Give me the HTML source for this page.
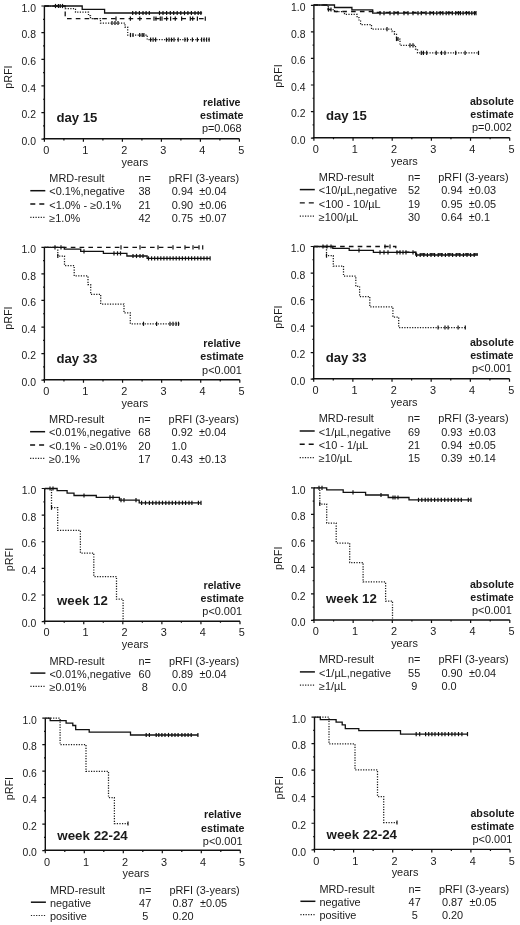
<!DOCTYPE html>
<html><head><meta charset="utf-8"><title>pRFI by MRD</title><style>
html,body{margin:0;padding:0;background:#fff;}
body{width:520px;height:925px;overflow:hidden;}
svg{display:block;filter:blur(0.3px);}
text{font-family:"Liberation Sans",sans-serif;fill:#1a1a1a;}
.ax{stroke:#111;stroke-width:1.4;fill:none;}
.tk{stroke:#111;stroke-width:1.2;fill:none;}
.so{stroke:#111;stroke-width:1.3;fill:none;}
.da{stroke:#111;stroke-width:1.3;fill:none;stroke-dasharray:4.6 4.2;}
.do{stroke:#1a1a1a;stroke-width:1.25;fill:none;stroke-dasharray:1.2 1.4;}
.lso{stroke:#111;stroke-width:1.5;fill:none;}
.lda{stroke:#111;stroke-width:1.4;fill:none;stroke-dasharray:5 4;}
.ldo{stroke:#222;stroke-width:1.2;fill:none;stroke-dasharray:1.2 1.4;}
.cs{stroke:#111;stroke-width:1.2;}
</style></head>
<body><svg width="520" height="925" viewBox="0 0 520 925">
<rect width="520" height="925" fill="#fff"/>
<path class="ax" d="M44.40 6.00V138.80M43.20 138.80H239.40"/>
<path class="tk" d="M41.40 139.20H44.40M44.40 138.80V141.80M41.40 112.56H44.40M83.40 138.80V141.80M41.40 85.92H44.40M122.40 138.80V141.80M41.40 59.28H44.40M161.40 138.80V141.80M41.40 32.64H44.40M200.40 138.80V141.80M41.40 6.00H44.40M239.40 138.80V141.80M43.10 125.88H44.40M63.90 138.80V140.40M43.10 99.24H44.40M102.90 138.80V140.40M43.10 72.60H44.40M141.90 138.80V140.40M43.10 45.96H44.40M180.90 138.80V140.40M43.10 19.32H44.40M219.90 138.80V140.40"/>
<text transform="translate(36.00 144.90) scale(1.01 1)" font-size="10.3" text-anchor="end">0.0</text>
<text transform="translate(46.20 154.00) scale(1.06 1)" font-size="10.3" text-anchor="middle">0</text>
<text transform="translate(36.00 118.26) scale(1.01 1)" font-size="10.3" text-anchor="end">0.2</text>
<text transform="translate(85.20 154.00) scale(1.06 1)" font-size="10.3" text-anchor="middle">1</text>
<text transform="translate(36.00 91.62) scale(1.01 1)" font-size="10.3" text-anchor="end">0.4</text>
<text transform="translate(124.20 154.00) scale(1.06 1)" font-size="10.3" text-anchor="middle">2</text>
<text transform="translate(36.00 64.98) scale(1.01 1)" font-size="10.3" text-anchor="end">0.6</text>
<text transform="translate(163.20 154.00) scale(1.06 1)" font-size="10.3" text-anchor="middle">3</text>
<text transform="translate(36.00 38.34) scale(1.01 1)" font-size="10.3" text-anchor="end">0.8</text>
<text transform="translate(202.20 154.00) scale(1.06 1)" font-size="10.3" text-anchor="middle">4</text>
<text transform="translate(36.00 11.70) scale(1.01 1)" font-size="10.3" text-anchor="end">1.0</text>
<text transform="translate(241.20 154.00) scale(1.06 1)" font-size="10.3" text-anchor="middle">5</text>
<text transform="translate(134.90 165.60) scale(1.06 1)" font-size="10.3" text-anchor="middle">years</text>
<text transform="translate(12.40 77.10) rotate(-90) scale(1.07 1)" font-size="10.1" text-anchor="middle">pRFI</text>
<path class="so" d="M44.40 6.00H82.20V9.40H104.60V13.00H202.10"/>
<line class="cs" x1="55.50" y1="3.90" x2="55.50" y2="8.10"/>
<line class="cs" x1="58.40" y1="3.90" x2="58.40" y2="8.10"/>
<line class="cs" x1="60.20" y1="3.90" x2="60.20" y2="8.10"/>
<line class="cs" x1="62.50" y1="3.90" x2="62.50" y2="8.10"/>
<line class="cs" x1="132.70" y1="10.90" x2="132.70" y2="15.10"/>
<line class="cs" x1="135.90" y1="10.90" x2="135.90" y2="15.10"/>
<line class="cs" x1="139.40" y1="10.90" x2="139.40" y2="15.10"/>
<line class="cs" x1="143.00" y1="10.90" x2="143.00" y2="15.10"/>
<line class="cs" x1="146.10" y1="10.90" x2="146.10" y2="15.10"/>
<line class="cs" x1="149.30" y1="10.90" x2="149.30" y2="15.10"/>
<line class="cs" x1="159.50" y1="10.90" x2="159.50" y2="15.10"/>
<line class="cs" x1="163.00" y1="10.90" x2="163.00" y2="15.10"/>
<line class="cs" x1="166.60" y1="10.90" x2="166.60" y2="15.10"/>
<line class="cs" x1="170.30" y1="10.90" x2="170.30" y2="15.10"/>
<line class="cs" x1="173.70" y1="10.90" x2="173.70" y2="15.10"/>
<line class="cs" x1="177.20" y1="10.90" x2="177.20" y2="15.10"/>
<line class="cs" x1="180.80" y1="10.90" x2="180.80" y2="15.10"/>
<line class="cs" x1="184.50" y1="10.90" x2="184.50" y2="15.10"/>
<line class="cs" x1="187.90" y1="10.90" x2="187.90" y2="15.10"/>
<line class="cs" x1="191.40" y1="10.90" x2="191.40" y2="15.10"/>
<line class="cs" x1="195.00" y1="10.90" x2="195.00" y2="15.10"/>
<line class="cs" x1="198.20" y1="10.90" x2="198.20" y2="15.10"/>
<line class="cs" x1="200.90" y1="10.90" x2="200.90" y2="15.10"/>
<path class="da" d="M44.40 6.00H65.20V18.60H205.30"/>
<line class="cs" x1="116.00" y1="16.50" x2="116.00" y2="20.70"/>
<line class="cs" x1="130.40" y1="16.50" x2="130.40" y2="20.70"/>
<line class="cs" x1="139.80" y1="16.50" x2="139.80" y2="20.70"/>
<line class="cs" x1="154.00" y1="16.50" x2="154.00" y2="20.70"/>
<line class="cs" x1="156.00" y1="16.50" x2="156.00" y2="20.70"/>
<line class="cs" x1="160.30" y1="16.50" x2="160.30" y2="20.70"/>
<line class="cs" x1="162.00" y1="16.50" x2="162.00" y2="20.70"/>
<line class="cs" x1="166.60" y1="16.50" x2="166.60" y2="20.70"/>
<line class="cs" x1="170.60" y1="16.50" x2="170.60" y2="20.70"/>
<line class="cs" x1="175.30" y1="16.50" x2="175.30" y2="20.70"/>
<line class="cs" x1="181.60" y1="16.50" x2="181.60" y2="20.70"/>
<line class="cs" x1="190.30" y1="16.50" x2="190.30" y2="20.70"/>
<line class="cs" x1="192.70" y1="16.50" x2="192.70" y2="20.70"/>
<line class="cs" x1="197.40" y1="16.50" x2="197.40" y2="20.70"/>
<line class="cs" x1="205.30" y1="16.50" x2="205.30" y2="20.70"/>
<path class="do" d="M44.40 6.00H65.20V8.70H75.50V12.20H88.50V15.50H90.50V18.50H100.50V23.00H125.00V27.00H127.70V35.00H147.20V39.70H209.50"/>
<line class="cs" x1="112.00" y1="20.90" x2="112.00" y2="25.10"/>
<line class="cs" x1="115.00" y1="20.90" x2="115.00" y2="25.10"/>
<line class="cs" x1="118.00" y1="20.90" x2="118.00" y2="25.10"/>
<line class="cs" x1="130.50" y1="32.90" x2="130.50" y2="37.10"/>
<line class="cs" x1="133.00" y1="32.90" x2="133.00" y2="37.10"/>
<line class="cs" x1="139.70" y1="32.90" x2="139.70" y2="37.10"/>
<line class="cs" x1="142.20" y1="32.90" x2="142.20" y2="37.10"/>
<line class="cs" x1="143.90" y1="32.90" x2="143.90" y2="37.10"/>
<line class="cs" x1="150.60" y1="37.60" x2="150.60" y2="41.80"/>
<line class="cs" x1="153.10" y1="37.60" x2="153.10" y2="41.80"/>
<line class="cs" x1="155.60" y1="37.60" x2="155.60" y2="41.80"/>
<line class="cs" x1="166.50" y1="37.60" x2="166.50" y2="41.80"/>
<line class="cs" x1="169.00" y1="37.60" x2="169.00" y2="41.80"/>
<line class="cs" x1="171.50" y1="37.60" x2="171.50" y2="41.80"/>
<line class="cs" x1="174.00" y1="37.60" x2="174.00" y2="41.80"/>
<line class="cs" x1="178.20" y1="37.60" x2="178.20" y2="41.80"/>
<line class="cs" x1="184.90" y1="37.60" x2="184.90" y2="41.80"/>
<line class="cs" x1="187.40" y1="37.60" x2="187.40" y2="41.80"/>
<line class="cs" x1="192.40" y1="37.60" x2="192.40" y2="41.80"/>
<line class="cs" x1="197.40" y1="37.60" x2="197.40" y2="41.80"/>
<line class="cs" x1="201.60" y1="37.60" x2="201.60" y2="41.80"/>
<line class="cs" x1="204.10" y1="37.60" x2="204.10" y2="41.80"/>
<line class="cs" x1="206.60" y1="37.60" x2="206.60" y2="41.80"/>
<line class="cs" x1="209.10" y1="37.60" x2="209.10" y2="41.80"/>
<text transform="translate(56.40 121.50) scale(1.0453 1)" font-size="12.6" font-weight="bold">day 15</text>
<text transform="translate(221.80 106.00) scale(1.05 1)" font-size="10.2" font-weight="bold" text-anchor="middle">relative</text>
<text transform="translate(221.80 118.90) scale(1.05 1)" font-size="10.2" font-weight="bold" text-anchor="middle">estimate</text>
<text transform="translate(221.80 132.20) scale(1.06 1)" font-size="10.3" text-anchor="middle">p=0.068</text>
<text transform="translate(49.30 182.10) scale(1.06 1)" font-size="10.3">MRD-result</text>
<text transform="translate(144.60 182.10) scale(1.06 1)" font-size="10.3" text-anchor="middle">n=</text>
<text transform="translate(168.80 182.10) scale(1.06 1)" font-size="10.3">pRFI (3-years)</text>
<path class="lso" d="M30.30 190.70H45.30"/>
<text transform="translate(49.30 195.40) scale(1.06 1)" font-size="10.3">&lt;0.1%,negative</text>
<text transform="translate(144.60 195.40) scale(1.06 1)" font-size="10.3" text-anchor="middle">38</text>
<text transform="translate(171.80 195.40) scale(1.06 1)" font-size="10.3">0.94</text>
<text transform="translate(199.30 195.40) scale(1.06 1)" font-size="10.3">±0.04</text>
<path class="lda" d="M30.30 204.00H45.30"/>
<text transform="translate(49.30 208.70) scale(1.06 1)" font-size="10.3">&lt;1.0% - ≥0.1%</text>
<text transform="translate(144.60 208.70) scale(1.06 1)" font-size="10.3" text-anchor="middle">21</text>
<text transform="translate(171.80 208.70) scale(1.06 1)" font-size="10.3">0.90</text>
<text transform="translate(199.30 208.70) scale(1.06 1)" font-size="10.3">±0.06</text>
<path class="ldo" d="M30.30 217.30H45.30"/>
<text transform="translate(49.30 222.00) scale(1.06 1)" font-size="10.3">≥1.0%</text>
<text transform="translate(144.60 222.00) scale(1.06 1)" font-size="10.3" text-anchor="middle">42</text>
<text transform="translate(171.80 222.00) scale(1.06 1)" font-size="10.3">0.75</text>
<text transform="translate(199.30 222.00) scale(1.06 1)" font-size="10.3">±0.07</text>
<path class="ax" d="M313.90 5.30V137.70M312.70 137.70H509.70"/>
<path class="tk" d="M310.90 138.10H313.90M313.90 137.70V140.70M310.90 111.54H313.90M353.06 137.70V140.70M310.90 84.98H313.90M392.22 137.70V140.70M310.90 58.42H313.90M431.38 137.70V140.70M310.90 31.86H313.90M470.54 137.70V140.70M310.90 5.30H313.90M509.70 137.70V140.70M312.60 124.82H313.90M333.48 137.70V139.30M312.60 98.26H313.90M372.64 137.70V139.30M312.60 71.70H313.90M411.80 137.70V139.30M312.60 45.14H313.90M450.96 137.70V139.30M312.60 18.58H313.90M490.12 137.70V139.30"/>
<text transform="translate(305.50 143.80) scale(1.01 1)" font-size="10.3" text-anchor="end">0.0</text>
<text transform="translate(315.70 152.90) scale(1.06 1)" font-size="10.3" text-anchor="middle">0</text>
<text transform="translate(305.50 117.24) scale(1.01 1)" font-size="10.3" text-anchor="end">0.2</text>
<text transform="translate(354.86 152.90) scale(1.06 1)" font-size="10.3" text-anchor="middle">1</text>
<text transform="translate(305.50 90.68) scale(1.01 1)" font-size="10.3" text-anchor="end">0.4</text>
<text transform="translate(394.02 152.90) scale(1.06 1)" font-size="10.3" text-anchor="middle">2</text>
<text transform="translate(305.50 64.12) scale(1.01 1)" font-size="10.3" text-anchor="end">0.6</text>
<text transform="translate(433.18 152.90) scale(1.06 1)" font-size="10.3" text-anchor="middle">3</text>
<text transform="translate(305.50 37.56) scale(1.01 1)" font-size="10.3" text-anchor="end">0.8</text>
<text transform="translate(472.34 152.90) scale(1.06 1)" font-size="10.3" text-anchor="middle">4</text>
<text transform="translate(305.50 11.00) scale(1.01 1)" font-size="10.3" text-anchor="end">1.0</text>
<text transform="translate(511.50 152.90) scale(1.06 1)" font-size="10.3" text-anchor="middle">5</text>
<text transform="translate(404.40 164.50) scale(1.06 1)" font-size="10.3" text-anchor="middle">years</text>
<text transform="translate(281.90 76.00) rotate(-90) scale(1.07 1)" font-size="10.1" text-anchor="middle">pRFI</text>
<path class="so" d="M313.60 5.00H334.50V7.50H351.90V9.80H372.70V13.20H476.00"/>
<line class="cs" x1="380.00" y1="11.10" x2="380.00" y2="15.30"/>
<line class="cs" x1="384.00" y1="11.10" x2="384.00" y2="15.30"/>
<line class="cs" x1="390.00" y1="11.10" x2="390.00" y2="15.30"/>
<line class="cs" x1="394.00" y1="11.10" x2="394.00" y2="15.30"/>
<line class="cs" x1="398.00" y1="11.10" x2="398.00" y2="15.30"/>
<line class="cs" x1="404.00" y1="11.10" x2="404.00" y2="15.30"/>
<line class="cs" x1="408.00" y1="11.10" x2="408.00" y2="15.30"/>
<line class="cs" x1="413.00" y1="11.10" x2="413.00" y2="15.30"/>
<line class="cs" x1="418.00" y1="11.10" x2="418.00" y2="15.30"/>
<line class="cs" x1="421.30" y1="11.10" x2="421.30" y2="15.30"/>
<line class="cs" x1="426.00" y1="11.10" x2="426.00" y2="15.30"/>
<line class="cs" x1="430.00" y1="11.10" x2="430.00" y2="15.30"/>
<line class="cs" x1="433.50" y1="11.10" x2="433.50" y2="15.30"/>
<line class="cs" x1="436.80" y1="11.10" x2="436.80" y2="15.30"/>
<line class="cs" x1="440.20" y1="11.10" x2="440.20" y2="15.30"/>
<line class="cs" x1="442.90" y1="11.10" x2="442.90" y2="15.30"/>
<line class="cs" x1="446.20" y1="11.10" x2="446.20" y2="15.30"/>
<line class="cs" x1="448.90" y1="11.10" x2="448.90" y2="15.30"/>
<line class="cs" x1="452.30" y1="11.10" x2="452.30" y2="15.30"/>
<line class="cs" x1="455.70" y1="11.10" x2="455.70" y2="15.30"/>
<line class="cs" x1="458.40" y1="11.10" x2="458.40" y2="15.30"/>
<line class="cs" x1="460.40" y1="11.10" x2="460.40" y2="15.30"/>
<line class="cs" x1="463.10" y1="11.10" x2="463.10" y2="15.30"/>
<line class="cs" x1="466.40" y1="11.10" x2="466.40" y2="15.30"/>
<line class="cs" x1="469.10" y1="11.10" x2="469.10" y2="15.30"/>
<line class="cs" x1="471.80" y1="11.10" x2="471.80" y2="15.30"/>
<line class="cs" x1="474.50" y1="11.10" x2="474.50" y2="15.30"/>
<line class="cs" x1="476.00" y1="11.10" x2="476.00" y2="15.30"/>
<path class="da" d="M313.60 5.00H328.20V9.50H334.50V11.50H372.70V12.30H476.00"/>
<path class="do" d="M313.60 5.00H328.20V9.50H334.50V11.50H344.50V14.40H357.10V17.50H359.00V21.00H360.60V24.60H371.50V29.20H392.20V31.50H394.50V34.40H396.50V39.00H400.00V45.40H415.50V49.00H417.50V52.90H478.50"/>
<line class="cs" x1="328.50" y1="7.40" x2="328.50" y2="11.60"/>
<line class="cs" x1="331.00" y1="7.40" x2="331.00" y2="11.60"/>
<line class="cs" x1="387.00" y1="27.10" x2="387.00" y2="31.30"/>
<line class="cs" x1="396.50" y1="36.90" x2="396.50" y2="41.10"/>
<line class="cs" x1="398.00" y1="36.90" x2="398.00" y2="41.10"/>
<line class="cs" x1="410.00" y1="43.30" x2="410.00" y2="47.50"/>
<line class="cs" x1="413.00" y1="43.30" x2="413.00" y2="47.50"/>
<line class="cs" x1="421.30" y1="50.80" x2="421.30" y2="55.00"/>
<line class="cs" x1="423.40" y1="50.80" x2="423.40" y2="55.00"/>
<line class="cs" x1="426.70" y1="50.80" x2="426.70" y2="55.00"/>
<line class="cs" x1="436.20" y1="50.80" x2="436.20" y2="55.00"/>
<line class="cs" x1="441.50" y1="50.80" x2="441.50" y2="55.00"/>
<line class="cs" x1="444.90" y1="50.80" x2="444.90" y2="55.00"/>
<line class="cs" x1="455.70" y1="50.80" x2="455.70" y2="55.00"/>
<line class="cs" x1="465.10" y1="50.80" x2="465.10" y2="55.00"/>
<line class="cs" x1="478.50" y1="50.80" x2="478.50" y2="55.00"/>
<text transform="translate(325.90 120.40) scale(1.0453 1)" font-size="12.6" font-weight="bold">day 15</text>
<text transform="translate(491.90 104.90) scale(1.05 1)" font-size="10.2" font-weight="bold" text-anchor="middle">absolute</text>
<text transform="translate(491.90 117.80) scale(1.05 1)" font-size="10.2" font-weight="bold" text-anchor="middle">estimate</text>
<text transform="translate(491.90 130.80) scale(1.06 1)" font-size="10.3" text-anchor="middle">p=0.002</text>
<text transform="translate(318.80 181.00) scale(1.06 1)" font-size="10.3">MRD-result</text>
<text transform="translate(414.10 181.00) scale(1.06 1)" font-size="10.3" text-anchor="middle">n=</text>
<text transform="translate(438.30 181.00) scale(1.06 1)" font-size="10.3">pRFI (3-years)</text>
<path class="lso" d="M299.80 189.60H314.80"/>
<text transform="translate(318.80 194.30) scale(1.06 1)" font-size="10.3">&lt;10/µL,negative</text>
<text transform="translate(414.10 194.30) scale(1.06 1)" font-size="10.3" text-anchor="middle">52</text>
<text transform="translate(441.30 194.30) scale(1.06 1)" font-size="10.3">0.94</text>
<text transform="translate(468.80 194.30) scale(1.06 1)" font-size="10.3">±0.03</text>
<path class="lda" d="M299.80 202.90H314.80"/>
<text transform="translate(318.80 207.60) scale(1.06 1)" font-size="10.3">&lt;100 - 10/µL</text>
<text transform="translate(414.10 207.60) scale(1.06 1)" font-size="10.3" text-anchor="middle">19</text>
<text transform="translate(441.30 207.60) scale(1.06 1)" font-size="10.3">0.95</text>
<text transform="translate(468.80 207.60) scale(1.06 1)" font-size="10.3">±0.05</text>
<path class="ldo" d="M299.80 216.20H314.80"/>
<text transform="translate(318.80 220.90) scale(1.06 1)" font-size="10.3">≥100/µL</text>
<text transform="translate(414.10 220.90) scale(1.06 1)" font-size="10.3" text-anchor="middle">30</text>
<text transform="translate(441.30 220.90) scale(1.06 1)" font-size="10.3">0.64</text>
<text transform="translate(468.80 220.90) scale(1.06 1)" font-size="10.3">±0.1</text>
<path class="ax" d="M44.40 247.30V379.80M43.20 379.80H239.80"/>
<path class="tk" d="M41.40 380.20H44.40M44.40 379.80V382.80M41.40 353.62H44.40M83.48 379.80V382.80M41.40 327.04H44.40M122.56 379.80V382.80M41.40 300.46H44.40M161.64 379.80V382.80M41.40 273.88H44.40M200.72 379.80V382.80M41.40 247.30H44.40M239.80 379.80V382.80M43.10 366.91H44.40M63.94 379.80V381.40M43.10 340.33H44.40M103.02 379.80V381.40M43.10 313.75H44.40M142.10 379.80V381.40M43.10 287.17H44.40M181.18 379.80V381.40M43.10 260.59H44.40M220.26 379.80V381.40"/>
<text transform="translate(36.00 385.90) scale(1.01 1)" font-size="10.3" text-anchor="end">0.0</text>
<text transform="translate(46.20 395.00) scale(1.06 1)" font-size="10.3" text-anchor="middle">0</text>
<text transform="translate(36.00 359.32) scale(1.01 1)" font-size="10.3" text-anchor="end">0.2</text>
<text transform="translate(85.28 395.00) scale(1.06 1)" font-size="10.3" text-anchor="middle">1</text>
<text transform="translate(36.00 332.74) scale(1.01 1)" font-size="10.3" text-anchor="end">0.4</text>
<text transform="translate(124.36 395.00) scale(1.06 1)" font-size="10.3" text-anchor="middle">2</text>
<text transform="translate(36.00 306.16) scale(1.01 1)" font-size="10.3" text-anchor="end">0.6</text>
<text transform="translate(163.44 395.00) scale(1.06 1)" font-size="10.3" text-anchor="middle">3</text>
<text transform="translate(36.00 279.58) scale(1.01 1)" font-size="10.3" text-anchor="end">0.8</text>
<text transform="translate(202.52 395.00) scale(1.06 1)" font-size="10.3" text-anchor="middle">4</text>
<text transform="translate(36.00 253.00) scale(1.01 1)" font-size="10.3" text-anchor="end">1.0</text>
<text transform="translate(241.60 395.00) scale(1.06 1)" font-size="10.3" text-anchor="middle">5</text>
<text transform="translate(134.90 406.60) scale(1.06 1)" font-size="10.3" text-anchor="middle">years</text>
<text transform="translate(12.40 318.10) rotate(-90) scale(1.07 1)" font-size="10.1" text-anchor="middle">pRFI</text>
<path class="so" d="M44.40 247.30H64.30V249.20H80.70V251.40H103.40V253.40H126.90V256.00H147.10V258.40H210.00"/>
<line class="cs" x1="55.00" y1="245.20" x2="55.00" y2="249.40"/>
<line class="cs" x1="61.00" y1="245.20" x2="61.00" y2="249.40"/>
<line class="cs" x1="84.00" y1="249.30" x2="84.00" y2="253.50"/>
<line class="cs" x1="114.00" y1="251.30" x2="114.00" y2="255.50"/>
<line class="cs" x1="117.50" y1="251.30" x2="117.50" y2="255.50"/>
<line class="cs" x1="120.50" y1="251.30" x2="120.50" y2="255.50"/>
<line class="cs" x1="133.00" y1="253.90" x2="133.00" y2="258.10"/>
<line class="cs" x1="136.50" y1="253.90" x2="136.50" y2="258.10"/>
<line class="cs" x1="140.00" y1="253.90" x2="140.00" y2="258.10"/>
<line class="cs" x1="143.00" y1="253.90" x2="143.00" y2="258.10"/>
<line class="cs" x1="148.50" y1="256.30" x2="148.50" y2="260.50"/>
<line class="cs" x1="151.58" y1="256.30" x2="151.58" y2="260.50"/>
<line class="cs" x1="154.66" y1="256.30" x2="154.66" y2="260.50"/>
<line class="cs" x1="157.74" y1="256.30" x2="157.74" y2="260.50"/>
<line class="cs" x1="160.82" y1="256.30" x2="160.82" y2="260.50"/>
<line class="cs" x1="163.90" y1="256.30" x2="163.90" y2="260.50"/>
<line class="cs" x1="166.98" y1="256.30" x2="166.98" y2="260.50"/>
<line class="cs" x1="170.06" y1="256.30" x2="170.06" y2="260.50"/>
<line class="cs" x1="173.14" y1="256.30" x2="173.14" y2="260.50"/>
<line class="cs" x1="176.22" y1="256.30" x2="176.22" y2="260.50"/>
<line class="cs" x1="179.30" y1="256.30" x2="179.30" y2="260.50"/>
<line class="cs" x1="182.38" y1="256.30" x2="182.38" y2="260.50"/>
<line class="cs" x1="185.46" y1="256.30" x2="185.46" y2="260.50"/>
<line class="cs" x1="188.54" y1="256.30" x2="188.54" y2="260.50"/>
<line class="cs" x1="191.62" y1="256.30" x2="191.62" y2="260.50"/>
<line class="cs" x1="194.70" y1="256.30" x2="194.70" y2="260.50"/>
<line class="cs" x1="197.78" y1="256.30" x2="197.78" y2="260.50"/>
<line class="cs" x1="200.86" y1="256.30" x2="200.86" y2="260.50"/>
<line class="cs" x1="203.94" y1="256.30" x2="203.94" y2="260.50"/>
<line class="cs" x1="207.02" y1="256.30" x2="207.02" y2="260.50"/>
<line class="cs" x1="210.10" y1="256.30" x2="210.10" y2="260.50"/>
<path class="da" d="M44.40 247.30H202.70"/>
<line class="cs" x1="121.00" y1="245.20" x2="121.00" y2="249.40"/>
<line class="cs" x1="140.00" y1="245.20" x2="140.00" y2="249.40"/>
<line class="cs" x1="158.00" y1="245.20" x2="158.00" y2="249.40"/>
<line class="cs" x1="173.00" y1="245.20" x2="173.00" y2="249.40"/>
<line class="cs" x1="185.00" y1="245.20" x2="185.00" y2="249.40"/>
<line class="cs" x1="193.00" y1="245.20" x2="193.00" y2="249.40"/>
<line class="cs" x1="199.00" y1="245.20" x2="199.00" y2="249.40"/>
<line class="cs" x1="202.70" y1="245.20" x2="202.70" y2="249.40"/>
<path class="do" d="M44.40 247.30H57.80V256.00H64.50V265.60H74.20V275.90H88.00V284.50H90.70V294.30H100.70V304.00H124.00V312.80H130.30V323.80H179.40"/>
<line class="cs" x1="57.80" y1="253.90" x2="57.80" y2="258.10"/>
<line class="cs" x1="143.50" y1="321.70" x2="143.50" y2="325.90"/>
<line class="cs" x1="156.60" y1="321.70" x2="156.60" y2="325.90"/>
<line class="cs" x1="170.00" y1="321.70" x2="170.00" y2="325.90"/>
<line class="cs" x1="173.00" y1="321.70" x2="173.00" y2="325.90"/>
<line class="cs" x1="176.00" y1="321.70" x2="176.00" y2="325.90"/>
<line class="cs" x1="178.50" y1="321.70" x2="178.50" y2="325.90"/>
<text transform="translate(56.40 362.50) scale(1.0453 1)" font-size="12.6" font-weight="bold">day 33</text>
<text transform="translate(222.00 347.00) scale(1.05 1)" font-size="10.2" font-weight="bold" text-anchor="middle">relative</text>
<text transform="translate(222.00 359.90) scale(1.05 1)" font-size="10.2" font-weight="bold" text-anchor="middle">estimate</text>
<text transform="translate(222.00 373.50) scale(1.06 1)" font-size="10.3" text-anchor="middle">p&lt;0.001</text>
<text transform="translate(49.10 423.10) scale(1.06 1)" font-size="10.3">MRD-result</text>
<text transform="translate(144.40 423.10) scale(1.06 1)" font-size="10.3" text-anchor="middle">n=</text>
<text transform="translate(168.60 423.10) scale(1.06 1)" font-size="10.3">pRFI (3-years)</text>
<path class="lso" d="M30.10 431.70H45.10"/>
<text transform="translate(49.10 436.40) scale(1.06 1)" font-size="10.3">&lt;0.01%,negative</text>
<text transform="translate(144.40 436.40) scale(1.06 1)" font-size="10.3" text-anchor="middle">68</text>
<text transform="translate(171.60 436.40) scale(1.06 1)" font-size="10.3">0.92</text>
<text transform="translate(199.10 436.40) scale(1.06 1)" font-size="10.3">±0.04</text>
<path class="lda" d="M30.10 445.00H45.10"/>
<text transform="translate(49.10 449.70) scale(1.06 1)" font-size="10.3">&lt;0.1% - ≥0.01%</text>
<text transform="translate(144.40 449.70) scale(1.06 1)" font-size="10.3" text-anchor="middle">20</text>
<text transform="translate(171.60 449.70) scale(1.06 1)" font-size="10.3">1.0</text>
<path class="ldo" d="M30.10 458.30H45.10"/>
<text transform="translate(49.10 463.00) scale(1.06 1)" font-size="10.3">≥0.1%</text>
<text transform="translate(144.40 463.00) scale(1.06 1)" font-size="10.3" text-anchor="middle">17</text>
<text transform="translate(171.60 463.00) scale(1.06 1)" font-size="10.3">0.43</text>
<text transform="translate(199.10 463.00) scale(1.06 1)" font-size="10.3">±0.13</text>
<path class="ax" d="M313.70 246.50V378.80M312.50 378.80H509.50"/>
<path class="tk" d="M310.70 379.20H313.70M313.70 378.80V381.80M310.70 352.66H313.70M352.86 378.80V381.80M310.70 326.12H313.70M392.02 378.80V381.80M310.70 299.58H313.70M431.18 378.80V381.80M310.70 273.04H313.70M470.34 378.80V381.80M310.70 246.50H313.70M509.50 378.80V381.80M312.40 365.93H313.70M333.28 378.80V380.40M312.40 339.39H313.70M372.44 378.80V380.40M312.40 312.85H313.70M411.60 378.80V380.40M312.40 286.31H313.70M450.76 378.80V380.40M312.40 259.77H313.70M489.92 378.80V380.40"/>
<text transform="translate(305.30 384.90) scale(1.01 1)" font-size="10.3" text-anchor="end">0.0</text>
<text transform="translate(315.50 394.00) scale(1.06 1)" font-size="10.3" text-anchor="middle">0</text>
<text transform="translate(305.30 358.36) scale(1.01 1)" font-size="10.3" text-anchor="end">0.2</text>
<text transform="translate(354.66 394.00) scale(1.06 1)" font-size="10.3" text-anchor="middle">1</text>
<text transform="translate(305.30 331.82) scale(1.01 1)" font-size="10.3" text-anchor="end">0.4</text>
<text transform="translate(393.82 394.00) scale(1.06 1)" font-size="10.3" text-anchor="middle">2</text>
<text transform="translate(305.30 305.28) scale(1.01 1)" font-size="10.3" text-anchor="end">0.6</text>
<text transform="translate(432.98 394.00) scale(1.06 1)" font-size="10.3" text-anchor="middle">3</text>
<text transform="translate(305.30 278.74) scale(1.01 1)" font-size="10.3" text-anchor="end">0.8</text>
<text transform="translate(472.14 394.00) scale(1.06 1)" font-size="10.3" text-anchor="middle">4</text>
<text transform="translate(305.30 252.20) scale(1.01 1)" font-size="10.3" text-anchor="end">1.0</text>
<text transform="translate(511.30 394.00) scale(1.06 1)" font-size="10.3" text-anchor="middle">5</text>
<text transform="translate(404.20 405.60) scale(1.06 1)" font-size="10.3" text-anchor="middle">years</text>
<text transform="translate(281.70 317.10) rotate(-90) scale(1.07 1)" font-size="10.1" text-anchor="middle">pRFI</text>
<path class="so" d="M313.70 246.50H332.80V248.30H349.20V250.40H373.40V252.40H415.80V255.00H478.00"/>
<line class="cs" x1="323.00" y1="244.40" x2="323.00" y2="248.60"/>
<line class="cs" x1="327.00" y1="244.40" x2="327.00" y2="248.60"/>
<line class="cs" x1="331.00" y1="244.40" x2="331.00" y2="248.60"/>
<line class="cs" x1="359.00" y1="248.30" x2="359.00" y2="252.50"/>
<line class="cs" x1="380.00" y1="250.30" x2="380.00" y2="254.50"/>
<line class="cs" x1="384.00" y1="250.30" x2="384.00" y2="254.50"/>
<line class="cs" x1="388.00" y1="250.30" x2="388.00" y2="254.50"/>
<line class="cs" x1="397.00" y1="250.30" x2="397.00" y2="254.50"/>
<line class="cs" x1="400.00" y1="250.30" x2="400.00" y2="254.50"/>
<line class="cs" x1="403.00" y1="250.30" x2="403.00" y2="254.50"/>
<line class="cs" x1="406.00" y1="250.30" x2="406.00" y2="254.50"/>
<line class="cs" x1="413.00" y1="250.30" x2="413.00" y2="254.50"/>
<line class="cs" x1="416.60" y1="252.90" x2="416.60" y2="257.10"/>
<line class="cs" x1="420.20" y1="252.90" x2="420.20" y2="257.10"/>
<line class="cs" x1="423.80" y1="252.90" x2="423.80" y2="257.10"/>
<line class="cs" x1="427.40" y1="252.90" x2="427.40" y2="257.10"/>
<line class="cs" x1="431.00" y1="252.90" x2="431.00" y2="257.10"/>
<line class="cs" x1="434.60" y1="252.90" x2="434.60" y2="257.10"/>
<line class="cs" x1="438.20" y1="252.90" x2="438.20" y2="257.10"/>
<line class="cs" x1="441.80" y1="252.90" x2="441.80" y2="257.10"/>
<line class="cs" x1="445.40" y1="252.90" x2="445.40" y2="257.10"/>
<line class="cs" x1="449.00" y1="252.90" x2="449.00" y2="257.10"/>
<line class="cs" x1="452.60" y1="252.90" x2="452.60" y2="257.10"/>
<line class="cs" x1="456.20" y1="252.90" x2="456.20" y2="257.10"/>
<line class="cs" x1="459.80" y1="252.90" x2="459.80" y2="257.10"/>
<line class="cs" x1="463.40" y1="252.90" x2="463.40" y2="257.10"/>
<line class="cs" x1="467.00" y1="252.90" x2="467.00" y2="257.10"/>
<line class="cs" x1="470.60" y1="252.90" x2="470.60" y2="257.10"/>
<line class="cs" x1="474.20" y1="252.90" x2="474.20" y2="257.10"/>
<path class="da" d="M313.70 246.50H395.80V252.20H415.80V253.90H478.00"/>
<line class="cs" x1="385.00" y1="244.40" x2="385.00" y2="248.60"/>
<line class="cs" x1="390.00" y1="244.40" x2="390.00" y2="248.60"/>
<path class="do" d="M313.70 246.50H326.50V255.60H333.30V266.00H343.50V276.00H355.80V286.30H359.60V296.50H369.80V306.90H392.90V317.10H398.70V327.50H465.50"/>
<line class="cs" x1="326.50" y1="253.50" x2="326.50" y2="257.70"/>
<line class="cs" x1="438.10" y1="325.40" x2="438.10" y2="329.60"/>
<line class="cs" x1="445.00" y1="325.40" x2="445.00" y2="329.60"/>
<line class="cs" x1="448.10" y1="325.40" x2="448.10" y2="329.60"/>
<line class="cs" x1="458.10" y1="325.40" x2="458.10" y2="329.60"/>
<line class="cs" x1="465.30" y1="325.40" x2="465.30" y2="329.60"/>
<text transform="translate(325.70 361.50) scale(1.0453 1)" font-size="12.6" font-weight="bold">day 33</text>
<text transform="translate(491.85 346.00) scale(1.05 1)" font-size="10.2" font-weight="bold" text-anchor="middle">absolute</text>
<text transform="translate(491.85 358.90) scale(1.05 1)" font-size="10.2" font-weight="bold" text-anchor="middle">estimate</text>
<text transform="translate(491.85 372.35) scale(1.06 1)" font-size="10.3" text-anchor="middle">p&lt;0.001</text>
<text transform="translate(318.70 422.40) scale(1.06 1)" font-size="10.3">MRD-result</text>
<text transform="translate(414.00 422.40) scale(1.06 1)" font-size="10.3" text-anchor="middle">n=</text>
<text transform="translate(438.20 422.40) scale(1.06 1)" font-size="10.3">pRFI (3-years)</text>
<path class="lso" d="M299.70 431.00H314.70"/>
<text transform="translate(318.70 435.70) scale(1.06 1)" font-size="10.3">&lt;1/µL,negative</text>
<text transform="translate(414.00 435.70) scale(1.06 1)" font-size="10.3" text-anchor="middle">69</text>
<text transform="translate(441.20 435.70) scale(1.06 1)" font-size="10.3">0.93</text>
<text transform="translate(468.70 435.70) scale(1.06 1)" font-size="10.3">±0.03</text>
<path class="lda" d="M299.70 444.30H314.70"/>
<text transform="translate(318.70 449.00) scale(1.06 1)" font-size="10.3">&lt;10 - 1/µL</text>
<text transform="translate(414.00 449.00) scale(1.06 1)" font-size="10.3" text-anchor="middle">21</text>
<text transform="translate(441.20 449.00) scale(1.06 1)" font-size="10.3">0.94</text>
<text transform="translate(468.70 449.00) scale(1.06 1)" font-size="10.3">±0.05</text>
<path class="ldo" d="M299.70 457.60H314.70"/>
<text transform="translate(318.70 462.30) scale(1.06 1)" font-size="10.3">≥10/µL</text>
<text transform="translate(414.00 462.30) scale(1.06 1)" font-size="10.3" text-anchor="middle">15</text>
<text transform="translate(441.20 462.30) scale(1.06 1)" font-size="10.3">0.39</text>
<text transform="translate(468.70 462.30) scale(1.06 1)" font-size="10.3">±0.14</text>
<path class="ax" d="M44.70 488.50V621.20M43.50 621.20H240.00"/>
<path class="tk" d="M41.70 621.60H44.70M44.70 621.20V624.20M41.70 594.98H44.70M83.76 621.20V624.20M41.70 568.36H44.70M122.82 621.20V624.20M41.70 541.74H44.70M161.88 621.20V624.20M41.70 515.12H44.70M200.94 621.20V624.20M41.70 488.50H44.70M240.00 621.20V624.20M43.40 608.29H44.70M64.23 621.20V622.80M43.40 581.67H44.70M103.29 621.20V622.80M43.40 555.05H44.70M142.35 621.20V622.80M43.40 528.43H44.70M181.41 621.20V622.80M43.40 501.81H44.70M220.47 621.20V622.80"/>
<text transform="translate(36.30 627.30) scale(1.01 1)" font-size="10.3" text-anchor="end">0.0</text>
<text transform="translate(46.50 636.40) scale(1.06 1)" font-size="10.3" text-anchor="middle">0</text>
<text transform="translate(36.30 600.68) scale(1.01 1)" font-size="10.3" text-anchor="end">0.2</text>
<text transform="translate(85.56 636.40) scale(1.06 1)" font-size="10.3" text-anchor="middle">1</text>
<text transform="translate(36.30 574.06) scale(1.01 1)" font-size="10.3" text-anchor="end">0.4</text>
<text transform="translate(124.62 636.40) scale(1.06 1)" font-size="10.3" text-anchor="middle">2</text>
<text transform="translate(36.30 547.44) scale(1.01 1)" font-size="10.3" text-anchor="end">0.6</text>
<text transform="translate(163.68 636.40) scale(1.06 1)" font-size="10.3" text-anchor="middle">3</text>
<text transform="translate(36.30 520.82) scale(1.01 1)" font-size="10.3" text-anchor="end">0.8</text>
<text transform="translate(202.74 636.40) scale(1.06 1)" font-size="10.3" text-anchor="middle">4</text>
<text transform="translate(36.30 494.20) scale(1.01 1)" font-size="10.3" text-anchor="end">1.0</text>
<text transform="translate(241.80 636.40) scale(1.06 1)" font-size="10.3" text-anchor="middle">5</text>
<text transform="translate(135.20 648.00) scale(1.06 1)" font-size="10.3" text-anchor="middle">years</text>
<text transform="translate(12.70 559.50) rotate(-90) scale(1.07 1)" font-size="10.1" text-anchor="middle">pRFI</text>
<path class="so" d="M44.70 488.50H57.10V490.60H67.10V493.10H74.00V495.50H96.30V497.40H119.40V500.20H139.20V502.80H201.00"/>
<line class="cs" x1="50.00" y1="486.40" x2="50.00" y2="490.60"/>
<line class="cs" x1="53.00" y1="486.40" x2="53.00" y2="490.60"/>
<line class="cs" x1="84.00" y1="493.40" x2="84.00" y2="497.60"/>
<line class="cs" x1="110.00" y1="495.30" x2="110.00" y2="499.50"/>
<line class="cs" x1="113.00" y1="495.30" x2="113.00" y2="499.50"/>
<line class="cs" x1="121.00" y1="498.10" x2="121.00" y2="502.30"/>
<line class="cs" x1="124.00" y1="498.10" x2="124.00" y2="502.30"/>
<line class="cs" x1="136.00" y1="498.10" x2="136.00" y2="502.30"/>
<line class="cs" x1="141.60" y1="500.70" x2="141.60" y2="504.90"/>
<line class="cs" x1="145.50" y1="500.70" x2="145.50" y2="504.90"/>
<line class="cs" x1="149.40" y1="500.70" x2="149.40" y2="504.90"/>
<line class="cs" x1="152.70" y1="500.70" x2="152.70" y2="504.90"/>
<line class="cs" x1="156.00" y1="500.70" x2="156.00" y2="504.90"/>
<line class="cs" x1="159.20" y1="500.70" x2="159.20" y2="504.90"/>
<line class="cs" x1="162.50" y1="500.70" x2="162.50" y2="504.90"/>
<line class="cs" x1="165.80" y1="500.70" x2="165.80" y2="504.90"/>
<line class="cs" x1="169.00" y1="500.70" x2="169.00" y2="504.90"/>
<line class="cs" x1="172.30" y1="500.70" x2="172.30" y2="504.90"/>
<line class="cs" x1="175.60" y1="500.70" x2="175.60" y2="504.90"/>
<line class="cs" x1="179.10" y1="500.70" x2="179.10" y2="504.90"/>
<line class="cs" x1="182.50" y1="500.70" x2="182.50" y2="504.90"/>
<line class="cs" x1="185.60" y1="500.70" x2="185.60" y2="504.90"/>
<line class="cs" x1="189.00" y1="500.70" x2="189.00" y2="504.90"/>
<line class="cs" x1="191.90" y1="500.70" x2="191.90" y2="504.90"/>
<line class="cs" x1="198.40" y1="500.70" x2="198.40" y2="504.90"/>
<line class="cs" x1="201.00" y1="500.70" x2="201.00" y2="504.90"/>
<path class="do" d="M44.70 488.50H51.50V507.70H57.70V530.40H80.40V553.10H93.80V576.50H116.50V599.20H123.10V621.60H123.10"/>
<line class="cs" x1="51.50" y1="505.60" x2="51.50" y2="509.80"/>
<text transform="translate(57.00 604.60) scale(1.051 1)" font-size="12.6" font-weight="bold">week 12</text>
<text transform="translate(222.20 588.90) scale(1.05 1)" font-size="10.2" font-weight="bold" text-anchor="middle">relative</text>
<text transform="translate(222.20 602.10) scale(1.05 1)" font-size="10.2" font-weight="bold" text-anchor="middle">estimate</text>
<text transform="translate(222.20 615.40) scale(1.06 1)" font-size="10.3" text-anchor="middle">p&lt;0.001</text>
<text transform="translate(49.40 664.50) scale(1.06 1)" font-size="10.3">MRD-result</text>
<text transform="translate(144.70 664.50) scale(1.06 1)" font-size="10.3" text-anchor="middle">n=</text>
<text transform="translate(168.90 664.50) scale(1.06 1)" font-size="10.3">pRFI (3-years)</text>
<path class="lso" d="M30.40 673.10H45.40"/>
<text transform="translate(49.40 677.80) scale(1.06 1)" font-size="10.3">&lt;0.01%,negative</text>
<text transform="translate(144.70 677.80) scale(1.06 1)" font-size="10.3" text-anchor="middle">60</text>
<text transform="translate(171.90 677.80) scale(1.06 1)" font-size="10.3">0.89</text>
<text transform="translate(199.40 677.80) scale(1.06 1)" font-size="10.3">±0.04</text>
<path class="ldo" d="M30.40 686.40H45.40"/>
<text transform="translate(49.40 691.10) scale(1.06 1)" font-size="10.3">≥0.01%</text>
<text transform="translate(144.70 691.10) scale(1.06 1)" font-size="10.3" text-anchor="middle">8</text>
<text transform="translate(171.90 691.10) scale(1.06 1)" font-size="10.3">0.0</text>
<path class="ax" d="M314.00 487.90V620.00M312.80 620.00H509.80"/>
<path class="tk" d="M311.00 620.40H314.00M314.00 620.00V623.00M311.00 593.90H314.00M353.16 620.00V623.00M311.00 567.40H314.00M392.32 620.00V623.00M311.00 540.90H314.00M431.48 620.00V623.00M311.00 514.40H314.00M470.64 620.00V623.00M311.00 487.90H314.00M509.80 620.00V623.00M312.70 607.15H314.00M333.58 620.00V621.60M312.70 580.65H314.00M372.74 620.00V621.60M312.70 554.15H314.00M411.90 620.00V621.60M312.70 527.65H314.00M451.06 620.00V621.60M312.70 501.15H314.00M490.22 620.00V621.60"/>
<text transform="translate(305.60 626.10) scale(1.01 1)" font-size="10.3" text-anchor="end">0.0</text>
<text transform="translate(315.80 635.20) scale(1.06 1)" font-size="10.3" text-anchor="middle">0</text>
<text transform="translate(305.60 599.60) scale(1.01 1)" font-size="10.3" text-anchor="end">0.2</text>
<text transform="translate(354.96 635.20) scale(1.06 1)" font-size="10.3" text-anchor="middle">1</text>
<text transform="translate(305.60 573.10) scale(1.01 1)" font-size="10.3" text-anchor="end">0.4</text>
<text transform="translate(394.12 635.20) scale(1.06 1)" font-size="10.3" text-anchor="middle">2</text>
<text transform="translate(305.60 546.60) scale(1.01 1)" font-size="10.3" text-anchor="end">0.6</text>
<text transform="translate(433.28 635.20) scale(1.06 1)" font-size="10.3" text-anchor="middle">3</text>
<text transform="translate(305.60 520.10) scale(1.01 1)" font-size="10.3" text-anchor="end">0.8</text>
<text transform="translate(472.44 635.20) scale(1.06 1)" font-size="10.3" text-anchor="middle">4</text>
<text transform="translate(305.60 493.60) scale(1.01 1)" font-size="10.3" text-anchor="end">1.0</text>
<text transform="translate(511.60 635.20) scale(1.06 1)" font-size="10.3" text-anchor="middle">5</text>
<text transform="translate(404.50 646.80) scale(1.06 1)" font-size="10.3" text-anchor="middle">years</text>
<text transform="translate(282.00 558.30) rotate(-90) scale(1.07 1)" font-size="10.1" text-anchor="middle">pRFI</text>
<path class="so" d="M314.00 487.90H326.70V489.80H343.20V492.30H365.60V495.00H388.20V497.50H409.00V499.90H471.00"/>
<line class="cs" x1="319.00" y1="485.80" x2="319.00" y2="490.00"/>
<line class="cs" x1="322.00" y1="485.80" x2="322.00" y2="490.00"/>
<line class="cs" x1="353.00" y1="490.20" x2="353.00" y2="494.40"/>
<line class="cs" x1="381.00" y1="492.90" x2="381.00" y2="497.10"/>
<line class="cs" x1="393.00" y1="495.40" x2="393.00" y2="499.60"/>
<line class="cs" x1="395.00" y1="495.40" x2="395.00" y2="499.60"/>
<line class="cs" x1="398.00" y1="495.40" x2="398.00" y2="499.60"/>
<line class="cs" x1="418.50" y1="497.80" x2="418.50" y2="502.00"/>
<line class="cs" x1="421.80" y1="497.80" x2="421.80" y2="502.00"/>
<line class="cs" x1="425.20" y1="497.80" x2="425.20" y2="502.00"/>
<line class="cs" x1="428.10" y1="497.80" x2="428.10" y2="502.00"/>
<line class="cs" x1="431.20" y1="497.80" x2="431.20" y2="502.00"/>
<line class="cs" x1="434.60" y1="497.80" x2="434.60" y2="502.00"/>
<line class="cs" x1="438.00" y1="497.80" x2="438.00" y2="502.00"/>
<line class="cs" x1="441.30" y1="497.80" x2="441.30" y2="502.00"/>
<line class="cs" x1="444.70" y1="497.80" x2="444.70" y2="502.00"/>
<line class="cs" x1="448.10" y1="497.80" x2="448.10" y2="502.00"/>
<line class="cs" x1="451.40" y1="497.80" x2="451.40" y2="502.00"/>
<line class="cs" x1="454.80" y1="497.80" x2="454.80" y2="502.00"/>
<line class="cs" x1="458.20" y1="497.80" x2="458.20" y2="502.00"/>
<line class="cs" x1="461.30" y1="497.80" x2="461.30" y2="502.00"/>
<line class="cs" x1="468.30" y1="497.80" x2="468.30" y2="502.00"/>
<line class="cs" x1="471.00" y1="497.80" x2="471.00" y2="502.00"/>
<path class="do" d="M314.00 487.90H319.80V504.00H326.70V523.10H336.20V543.00H349.70V562.50H363.10V581.90H385.60V601.00H392.50V620.40H392.50"/>
<line class="cs" x1="319.80" y1="501.90" x2="319.80" y2="506.10"/>
<text transform="translate(326.00 603.35) scale(1.051 1)" font-size="12.6" font-weight="bold">week 12</text>
<text transform="translate(491.90 587.80) scale(1.05 1)" font-size="10.2" font-weight="bold" text-anchor="middle">absolute</text>
<text transform="translate(491.90 600.80) scale(1.05 1)" font-size="10.2" font-weight="bold" text-anchor="middle">estimate</text>
<text transform="translate(491.90 613.90) scale(1.06 1)" font-size="10.3" text-anchor="middle">p&lt;0.001</text>
<text transform="translate(318.90 663.30) scale(1.06 1)" font-size="10.3">MRD-result</text>
<text transform="translate(414.20 663.30) scale(1.06 1)" font-size="10.3" text-anchor="middle">n=</text>
<text transform="translate(438.40 663.30) scale(1.06 1)" font-size="10.3">pRFI (3-years)</text>
<path class="lso" d="M299.90 671.90H314.90"/>
<text transform="translate(318.90 676.60) scale(1.06 1)" font-size="10.3">&lt;1/µL,negative</text>
<text transform="translate(414.20 676.60) scale(1.06 1)" font-size="10.3" text-anchor="middle">55</text>
<text transform="translate(441.40 676.60) scale(1.06 1)" font-size="10.3">0.90</text>
<text transform="translate(468.90 676.60) scale(1.06 1)" font-size="10.3">±0.04</text>
<path class="ldo" d="M299.90 685.20H314.90"/>
<text transform="translate(318.90 689.90) scale(1.06 1)" font-size="10.3">≥1/µL</text>
<text transform="translate(414.20 689.90) scale(1.06 1)" font-size="10.3" text-anchor="middle">9</text>
<text transform="translate(441.40 689.90) scale(1.06 1)" font-size="10.3">0.0</text>
<path class="ax" d="M45.30 718.20V850.30M44.10 850.30H240.30"/>
<path class="tk" d="M42.30 850.70H45.30M45.30 850.30V853.30M42.30 824.20H45.30M84.30 850.30V853.30M42.30 797.70H45.30M123.30 850.30V853.30M42.30 771.20H45.30M162.30 850.30V853.30M42.30 744.70H45.30M201.30 850.30V853.30M42.30 718.20H45.30M240.30 850.30V853.30M44.00 837.45H45.30M64.80 850.30V851.90M44.00 810.95H45.30M103.80 850.30V851.90M44.00 784.45H45.30M142.80 850.30V851.90M44.00 757.95H45.30M181.80 850.30V851.90M44.00 731.45H45.30M220.80 850.30V851.90"/>
<text transform="translate(36.90 856.40) scale(1.01 1)" font-size="10.3" text-anchor="end">0.0</text>
<text transform="translate(47.10 865.50) scale(1.06 1)" font-size="10.3" text-anchor="middle">0</text>
<text transform="translate(36.90 829.90) scale(1.01 1)" font-size="10.3" text-anchor="end">0.2</text>
<text transform="translate(86.10 865.50) scale(1.06 1)" font-size="10.3" text-anchor="middle">1</text>
<text transform="translate(36.90 803.40) scale(1.01 1)" font-size="10.3" text-anchor="end">0.4</text>
<text transform="translate(125.10 865.50) scale(1.06 1)" font-size="10.3" text-anchor="middle">2</text>
<text transform="translate(36.90 776.90) scale(1.01 1)" font-size="10.3" text-anchor="end">0.6</text>
<text transform="translate(164.10 865.50) scale(1.06 1)" font-size="10.3" text-anchor="middle">3</text>
<text transform="translate(36.90 750.40) scale(1.01 1)" font-size="10.3" text-anchor="end">0.8</text>
<text transform="translate(203.10 865.50) scale(1.06 1)" font-size="10.3" text-anchor="middle">4</text>
<text transform="translate(36.90 723.90) scale(1.01 1)" font-size="10.3" text-anchor="end">1.0</text>
<text transform="translate(242.10 865.50) scale(1.06 1)" font-size="10.3" text-anchor="middle">5</text>
<text transform="translate(135.80 877.10) scale(1.06 1)" font-size="10.3" text-anchor="middle">years</text>
<text transform="translate(13.30 788.60) rotate(-90) scale(1.07 1)" font-size="10.1" text-anchor="middle">pRFI</text>
<path class="so" d="M45.30 718.20H50.20V720.60H66.10V723.20H72.80V725.50H75.70V729.60H89.20V732.10H130.50V735.00H198.20"/>
<line class="cs" x1="146.20" y1="732.90" x2="146.20" y2="737.10"/>
<line class="cs" x1="149.40" y1="732.90" x2="149.40" y2="737.10"/>
<line class="cs" x1="156.20" y1="732.90" x2="156.20" y2="737.10"/>
<line class="cs" x1="158.80" y1="732.90" x2="158.80" y2="737.10"/>
<line class="cs" x1="161.90" y1="732.90" x2="161.90" y2="737.10"/>
<line class="cs" x1="165.00" y1="732.90" x2="165.00" y2="737.10"/>
<line class="cs" x1="168.50" y1="732.90" x2="168.50" y2="737.10"/>
<line class="cs" x1="171.90" y1="732.90" x2="171.90" y2="737.10"/>
<line class="cs" x1="175.00" y1="732.90" x2="175.00" y2="737.10"/>
<line class="cs" x1="178.10" y1="732.90" x2="178.10" y2="737.10"/>
<line class="cs" x1="181.90" y1="732.90" x2="181.90" y2="737.10"/>
<line class="cs" x1="185.00" y1="732.90" x2="185.00" y2="737.10"/>
<line class="cs" x1="188.10" y1="732.90" x2="188.10" y2="737.10"/>
<line class="cs" x1="191.20" y1="732.90" x2="191.20" y2="737.10"/>
<line class="cs" x1="197.90" y1="732.90" x2="197.90" y2="737.10"/>
<path class="do" d="M45.30 718.20H60.10V744.60H86.00V771.30H108.50V797.60H114.40V823.50H128.00"/>
<line class="cs" x1="128.00" y1="821.40" x2="128.00" y2="825.60"/>
<text transform="translate(57.30 840.00) scale(1.061 1)" font-size="12.6" font-weight="bold">week 22-24</text>
<text transform="translate(222.70 817.90) scale(1.05 1)" font-size="10.2" font-weight="bold" text-anchor="middle">relative</text>
<text transform="translate(222.70 831.50) scale(1.05 1)" font-size="10.2" font-weight="bold" text-anchor="middle">estimate</text>
<text transform="translate(222.70 844.50) scale(1.06 1)" font-size="10.3" text-anchor="middle">p&lt;0.001</text>
<text transform="translate(49.90 893.60) scale(1.06 1)" font-size="10.3">MRD-result</text>
<text transform="translate(145.20 893.60) scale(1.06 1)" font-size="10.3" text-anchor="middle">n=</text>
<text transform="translate(169.40 893.60) scale(1.06 1)" font-size="10.3">pRFI (3-years)</text>
<path class="lso" d="M30.90 902.20H45.90"/>
<text transform="translate(49.90 906.90) scale(1.06 1)" font-size="10.3">negative</text>
<text transform="translate(145.20 906.90) scale(1.06 1)" font-size="10.3" text-anchor="middle">47</text>
<text transform="translate(172.40 906.90) scale(1.06 1)" font-size="10.3">0.87</text>
<text transform="translate(199.90 906.90) scale(1.06 1)" font-size="10.3">±0.05</text>
<path class="ldo" d="M30.90 915.50H45.90"/>
<text transform="translate(49.90 920.20) scale(1.06 1)" font-size="10.3">positive</text>
<text transform="translate(145.20 920.20) scale(1.06 1)" font-size="10.3" text-anchor="middle">5</text>
<text transform="translate(172.40 920.20) scale(1.06 1)" font-size="10.3">0.20</text>
<path class="ax" d="M314.50 717.10V849.40M313.30 849.40H510.00"/>
<path class="tk" d="M311.50 849.80H314.50M314.50 849.40V852.40M311.50 823.26H314.50M353.60 849.40V852.40M311.50 796.72H314.50M392.70 849.40V852.40M311.50 770.18H314.50M431.80 849.40V852.40M311.50 743.64H314.50M470.90 849.40V852.40M311.50 717.10H314.50M510.00 849.40V852.40M313.20 836.53H314.50M334.05 849.40V851.00M313.20 809.99H314.50M373.15 849.40V851.00M313.20 783.45H314.50M412.25 849.40V851.00M313.20 756.91H314.50M451.35 849.40V851.00M313.20 730.37H314.50M490.45 849.40V851.00"/>
<text transform="translate(306.10 855.50) scale(1.01 1)" font-size="10.3" text-anchor="end">0.0</text>
<text transform="translate(316.30 864.60) scale(1.06 1)" font-size="10.3" text-anchor="middle">0</text>
<text transform="translate(306.10 828.96) scale(1.01 1)" font-size="10.3" text-anchor="end">0.2</text>
<text transform="translate(355.40 864.60) scale(1.06 1)" font-size="10.3" text-anchor="middle">1</text>
<text transform="translate(306.10 802.42) scale(1.01 1)" font-size="10.3" text-anchor="end">0.4</text>
<text transform="translate(394.50 864.60) scale(1.06 1)" font-size="10.3" text-anchor="middle">2</text>
<text transform="translate(306.10 775.88) scale(1.01 1)" font-size="10.3" text-anchor="end">0.6</text>
<text transform="translate(433.60 864.60) scale(1.06 1)" font-size="10.3" text-anchor="middle">3</text>
<text transform="translate(306.10 749.34) scale(1.01 1)" font-size="10.3" text-anchor="end">0.8</text>
<text transform="translate(472.70 864.60) scale(1.06 1)" font-size="10.3" text-anchor="middle">4</text>
<text transform="translate(306.10 722.80) scale(1.01 1)" font-size="10.3" text-anchor="end">1.0</text>
<text transform="translate(511.80 864.60) scale(1.06 1)" font-size="10.3" text-anchor="middle">5</text>
<text transform="translate(405.00 876.20) scale(1.06 1)" font-size="10.3" text-anchor="middle">years</text>
<text transform="translate(282.50 787.70) rotate(-90) scale(1.07 1)" font-size="10.1" text-anchor="middle">pRFI</text>
<path class="so" d="M314.50 717.10H320.30V719.70H336.10V722.20H342.20V724.80H345.30V728.70H358.80V730.60H400.50V734.10H467.50"/>
<line class="cs" x1="416.20" y1="732.00" x2="416.20" y2="736.20"/>
<line class="cs" x1="419.70" y1="732.00" x2="419.70" y2="736.20"/>
<line class="cs" x1="425.60" y1="732.00" x2="425.60" y2="736.20"/>
<line class="cs" x1="428.70" y1="732.00" x2="428.70" y2="736.20"/>
<line class="cs" x1="431.90" y1="732.00" x2="431.90" y2="736.20"/>
<line class="cs" x1="435.00" y1="732.00" x2="435.00" y2="736.20"/>
<line class="cs" x1="438.50" y1="732.00" x2="438.50" y2="736.20"/>
<line class="cs" x1="441.90" y1="732.00" x2="441.90" y2="736.20"/>
<line class="cs" x1="445.00" y1="732.00" x2="445.00" y2="736.20"/>
<line class="cs" x1="448.50" y1="732.00" x2="448.50" y2="736.20"/>
<line class="cs" x1="451.90" y1="732.00" x2="451.90" y2="736.20"/>
<line class="cs" x1="455.00" y1="732.00" x2="455.00" y2="736.20"/>
<line class="cs" x1="458.50" y1="732.00" x2="458.50" y2="736.20"/>
<line class="cs" x1="461.90" y1="732.00" x2="461.90" y2="736.20"/>
<line class="cs" x1="467.50" y1="732.00" x2="467.50" y2="736.20"/>
<path class="do" d="M314.50 717.10H329.00V743.90H355.00V769.90H377.50V796.50H383.70V822.50H397.00"/>
<line class="cs" x1="397.00" y1="820.40" x2="397.00" y2="824.60"/>
<text transform="translate(326.50 838.50) scale(1.061 1)" font-size="12.6" font-weight="bold">week 22-24</text>
<text transform="translate(492.40 816.60) scale(1.05 1)" font-size="10.2" font-weight="bold" text-anchor="middle">absolute</text>
<text transform="translate(492.40 829.85) scale(1.05 1)" font-size="10.2" font-weight="bold" text-anchor="middle">estimate</text>
<text transform="translate(492.40 842.75) scale(1.06 1)" font-size="10.3" text-anchor="middle">p&lt;0.001</text>
<text transform="translate(319.40 892.70) scale(1.06 1)" font-size="10.3">MRD-result</text>
<text transform="translate(414.70 892.70) scale(1.06 1)" font-size="10.3" text-anchor="middle">n=</text>
<text transform="translate(438.90 892.70) scale(1.06 1)" font-size="10.3">pRFI (3-years)</text>
<path class="lso" d="M300.40 901.30H315.40"/>
<text transform="translate(319.40 906.00) scale(1.06 1)" font-size="10.3">negative</text>
<text transform="translate(414.70 906.00) scale(1.06 1)" font-size="10.3" text-anchor="middle">47</text>
<text transform="translate(441.90 906.00) scale(1.06 1)" font-size="10.3">0.87</text>
<text transform="translate(469.40 906.00) scale(1.06 1)" font-size="10.3">±0.05</text>
<path class="ldo" d="M300.40 914.60H315.40"/>
<text transform="translate(319.40 919.30) scale(1.06 1)" font-size="10.3">positive</text>
<text transform="translate(414.70 919.30) scale(1.06 1)" font-size="10.3" text-anchor="middle">5</text>
<text transform="translate(441.90 919.30) scale(1.06 1)" font-size="10.3">0.20</text>
</svg></body></html>
